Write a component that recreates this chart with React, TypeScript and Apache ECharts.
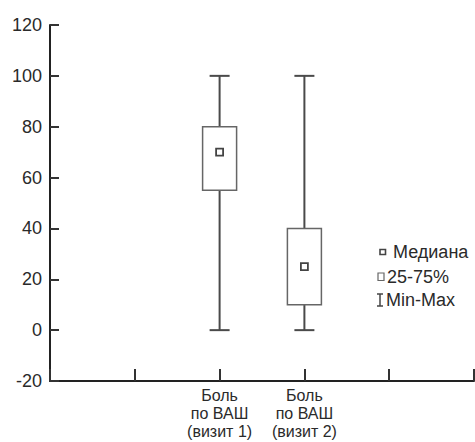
import React, { useEffect, useRef } from 'react';
import * as echarts from 'echarts';

const categories = ['', '', 'Боль\nпо ВАШ\n(визит 1)', 'Боль\nпо ВАШ\n(визит 2)', '', ''];
const boxIndex = [2, 3];
const minValues = [0, 0];
const q1Values = [55, 10];
const medianValues = [70, 25];
const q3Values = [80, 40];
const maxValues = [100, 100];
const yMin = -20;
const yMax = 120;
const yInterval = 20;
const legendLabels = ['Медиана', '25-75%', 'Min-Max'];

const FONT = '"Liberation Sans", Arial, Helvetica, sans-serif';

export default function App() {
  const ref = useRef<HTMLDivElement>(null);
  useEffect(() => {
    document.body.style.margin = '0';
    if (!ref.current) return;
    const chart = echarts.init(ref.current, null, { renderer: 'svg' });
    const data = boxIndex.map((x, i) => [x, minValues[i], q1Values[i], medianValues[i], q3Values[i], maxValues[i]]);
    const lineStyle = { stroke: '#4a4a4a', lineWidth: 2 };
    chart.setOption({
      animation: false,
      backgroundColor: '#fff',
      grid: { left: 50, right: 1, top: 25, bottom: 61, containLabel: false, outerBoundsMode: 'none' },
      xAxis: {
        type: 'category',
        data: categories,
        boundaryGap: false,
        axisLine: { show: true, onZero: false, lineStyle: { color: '#222', width: 2 } },
        axisTick: { show: true, inside: true, length: 12, interval: 0, lineStyle: { color: '#333', width: 2 } },
        axisLabel: { interval: 0, fontSize: 16, lineHeight: 18, color: '#2a2a2a', fontFamily: FONT, margin: 5 },
        splitLine: { show: false },
      },
      yAxis: {
        type: 'value',
        min: yMin,
        max: yMax,
        interval: yInterval,
        axisLine: { show: true, lineStyle: { color: '#222', width: 2 } },
        axisTick: { show: true, inside: true, length: 9, lineStyle: { color: '#333', width: 2 } },
        axisLabel: { fontSize: 18, color: '#2a2a2a', fontFamily: FONT, margin: 8 },
        splitLine: { show: false },
      },
      series: [
        {
          type: 'custom',
          data,
          encode: { x: 0, y: [1, 2, 3, 4, 5] },
          renderItem: (params: any, api: any) => {
            const x = api.value(0);
            const pMin = api.coord([x, api.value(1)]);
            const pQ1 = api.coord([x, api.value(2)]);
            const pMed = api.coord([x, api.value(3)]);
            const pQ3 = api.coord([x, api.value(4)]);
            const pMax = api.coord([x, api.value(5)]);
            const cx = pMin[0];
            const boxW = 34;
            const capW = 20;
            const m = 7;
            return {
              type: 'group',
              children: [
                { type: 'line', shape: { x1: cx, y1: pMin[1], x2: cx, y2: pQ1[1] }, style: lineStyle },
                { type: 'line', shape: { x1: cx, y1: pQ3[1], x2: cx, y2: pMax[1] }, style: lineStyle },
                { type: 'line', shape: { x1: cx - capW / 2, y1: pMin[1], x2: cx + capW / 2, y2: pMin[1] }, style: lineStyle },
                { type: 'line', shape: { x1: cx - capW / 2, y1: pMax[1], x2: cx + capW / 2, y2: pMax[1] }, style: lineStyle },
                {
                  type: 'rect',
                  shape: { x: cx - boxW / 2, y: pQ3[1], width: boxW, height: pQ1[1] - pQ3[1] },
                  style: { fill: '#fff', stroke: '#666', lineWidth: 1.5 },
                },
                {
                  type: 'rect',
                  shape: { x: cx - m / 2, y: pMed[1] - m / 2, width: m, height: m },
                  style: { fill: '#fff', stroke: '#444', lineWidth: 1.8 },
                },
              ],
            };
          },
        },
      ],
      graphic: [
        { type: 'rect', shape: { x: 380, y: 249.5, width: 5.5, height: 5 }, style: { fill: '#fff', stroke: '#444', lineWidth: 1.6 } },
        { type: 'text', x: 393, y: 252, style: { text: legendLabels[0], fontSize: 18, fill: '#2a2a2a', fontFamily: FONT, verticalAlign: 'middle' } },
        { type: 'rect', shape: { x: 378, y: 273, width: 6, height: 7.5 }, style: { fill: '#fff', stroke: '#666', lineWidth: 1.2 } },
        { type: 'text', x: 387, y: 277, style: { text: legendLabels[1], fontSize: 18, fill: '#2a2a2a', fontFamily: FONT, verticalAlign: 'middle' } },
        { type: 'line', shape: { x1: 380, y1: 294, x2: 380, y2: 306 }, style: { stroke: '#444', lineWidth: 1.5 } },
        { type: 'line', shape: { x1: 377, y1: 294, x2: 383, y2: 294 }, style: { stroke: '#444', lineWidth: 1.5 } },
        { type: 'line', shape: { x1: 377, y1: 306, x2: 383, y2: 306 }, style: { stroke: '#444', lineWidth: 1.5 } },
        { type: 'text', x: 386, y: 300, style: { text: legendLabels[2], fontSize: 18, fill: '#2a2a2a', fontFamily: FONT, verticalAlign: 'middle' } },
      ],
    });
    return () => chart.dispose();
  }, []);
  return <div ref={ref} style={{ width: 475, height: 442 }} />;
}
